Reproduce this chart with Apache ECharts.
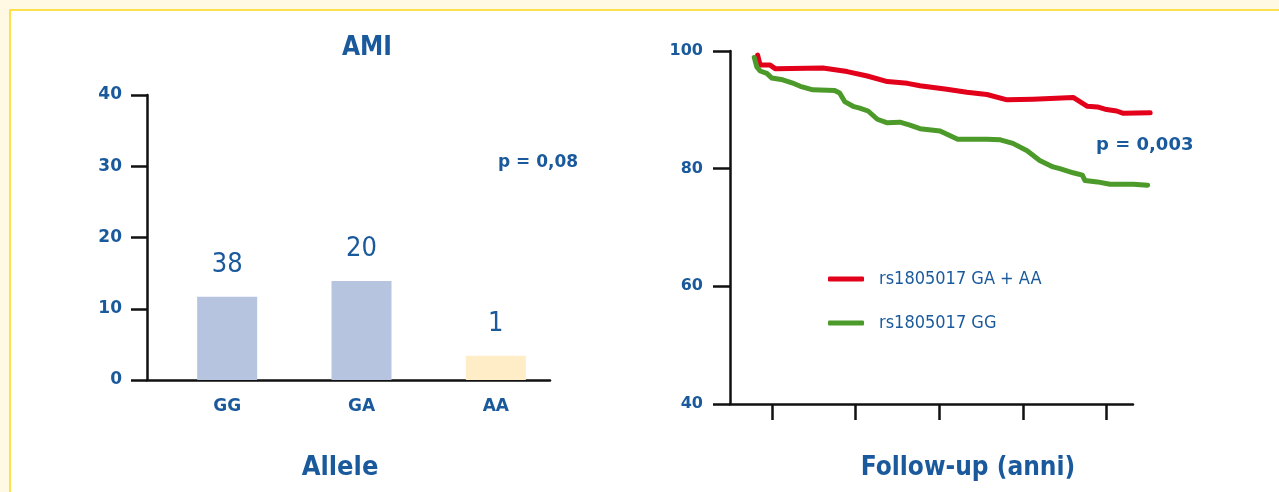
<!DOCTYPE html>
<html><head><meta charset="utf-8">
<script src="https://cdn.jsdelivr.net/npm/echarts@6/dist/echarts.min.js"></script>
<style>
html,body{margin:0;padding:0;background:#fff8e2;width:1279px;height:492px;overflow:hidden}
#panel{position:absolute;left:9px;top:9px;width:1280px;height:490px;background:#fff;border-left:2px solid #fde14a;border-top:2px solid #fde14a}
#c{position:absolute;left:0;top:0;width:1279px;height:492px}
</style></head>
<body><div id="panel"></div><div id="c"></div>
<script>
// ---- data ----
const barCategories = ['GG', 'GA', 'AA'];
const barValues = [11.7, 13.9, 3.4];
const barLabels = ['38', '20', '1'];
const leftTicks = { min: 0, max: 40, interval: 10 };
const rightTicks = { min: 40, max: 100, interval: 20 };
const followTicks = [1, 2, 3, 4, 5];

const redName = 'rs1805017 GA + AA';
const redX = [0.83, 0.86, 0.98, 1.04, 1.61, 1.90, 2.14, 2.38, 2.62, 2.77, 3.09, 3.33, 3.57, 3.81, 4.12, 4.60, 4.68, 4.77, 4.89, 5.00, 5.12, 5.20, 5.52];
const redY = [99.3, 97.6, 97.6, 97.0, 97.1, 96.5, 95.75, 94.8, 94.5, 94.1, 93.5, 93.0, 92.6, 91.7, 91.8, 92.1, 91.4, 90.6, 90.5, 90.05, 89.8, 89.4, 89.5];

const greenName = 'rs1805017 GG';
const greenX = [0.79, 0.82, 0.86, 0.94, 1.00, 1.13, 1.24, 1.34, 1.49, 1.75, 1.81, 1.87, 1.97, 2.05, 2.15, 2.26, 2.38, 2.53, 2.65, 2.77, 3.01, 3.22, 3.57, 3.73, 3.88, 4.05, 4.20, 4.36, 4.44, 4.60, 4.71, 4.74, 4.89, 5.04, 5.32, 5.49];
const greenY = [98.9, 97.3, 96.6, 96.2, 95.4, 95.1, 94.6, 94.0, 93.4, 93.3, 92.85, 91.4, 90.6, 90.3, 89.8, 88.4, 87.8, 87.9, 87.4, 86.8, 86.4, 85.0, 85.0, 84.9, 84.3, 83.05, 81.4, 80.3, 80.0, 79.3, 78.9, 78.0, 77.75, 77.35, 77.35, 77.2];

// ---- styles ----
const BLUE = '#1a5a9c';
const WIDE = "'DejaVu Sans', Verdana, sans-serif";
const NARROW = "'Liberation Sans Narrow', 'DejaVu Sans Condensed', 'Arial Narrow', sans-serif";
const AX = { color: '#111', width: 2.5 };

const zip = (xs, ys) => xs.map((x, i) => [x, ys[i]]);

const chart = echarts.init(document.getElementById('c'), null, { renderer: 'canvas' });
chart.setOption({
  backgroundColor: 'transparent',
  animation: false,
  grid: [
    { left: 147, top: 95, width: 403, height: 285 },
    { left: 160, top: 95, width: 403, height: 285 },
    { left: 730, top: 51, width: 420, height: 353 },
    { left: 730, top: 51, width: 403, height: 353 }
  ],
  xAxis: [
    { gridIndex: 0, type: 'value', min: 0, max: 1, axisLine: { onZero: false, lineStyle: AX },
      axisTick: { show: false }, axisLabel: { show: false }, splitLine: { show: false } },
    { gridIndex: 1, type: 'category', data: barCategories, axisLine: { show: false }, axisTick: { show: false },
      axisLabel: { margin: 18, color: BLUE, fontFamily: WIDE, fontWeight: 'bold', fontSize: 17 } },
    { gridIndex: 2, type: 'value', min: 0.5, max: 5.518, axisLine: { show: false, onZero: false },
      axisTick: { show: true, length: 16, lineStyle: AX, customValues: followTicks },
      axisLabel: { show: false }, splitLine: { show: false } },
    { gridIndex: 3, type: 'value', min: 0, max: 1, axisLine: { onZero: false, lineStyle: AX },
      axisTick: { show: false }, axisLabel: { show: false }, splitLine: { show: false } }
  ],
  yAxis: [
    { gridIndex: 0, type: 'value', min: leftTicks.min, max: leftTicks.max, interval: leftTicks.interval,
      axisLine: { show: true, onZero: false, lineStyle: AX },
      axisTick: { show: true, length: 16, lineStyle: AX },
      axisLabel: { margin: 25, color: BLUE, fontFamily: WIDE, fontWeight: 'bold', fontSize: 17 },
      splitLine: { show: false } },
    { gridIndex: 1, type: 'value', min: leftTicks.min, max: leftTicks.max, show: false },
    { gridIndex: 2, type: 'value', min: rightTicks.min, max: rightTicks.max, interval: rightTicks.interval,
      axisLine: { show: true, onZero: false, lineStyle: AX },
      axisTick: { show: true, length: 17, lineStyle: AX },
      axisLabel: { margin: 27, color: BLUE, fontFamily: WIDE, fontWeight: 'bold', fontSize: 16 },
      splitLine: { show: false } },
    { gridIndex: 3, type: 'value', min: 0, max: 1, show: false }
  ],
  legend: {
    orient: 'vertical', left: 823, top: 265, itemWidth: 36, itemHeight: 5, itemGap: 26,
    icon: 'roundRect',
    textStyle: { color: BLUE, fontFamily: NARROW, fontSize: 18, padding: [0, 0, 0, 10] },
    data: [redName, greenName]
  },
  series: [
    { type: 'bar', xAxisIndex: 1, yAxisIndex: 1, barWidth: 60,
      data: barValues.map((v, i) => ({ value: v, itemStyle: { color: i === 2 ? '#feedc6' : '#b6c4e0' } })),
      label: { show: true, position: 'top', distance: 18, color: BLUE, fontFamily: NARROW, fontSize: 27,
        formatter: p => barLabels[p.dataIndex] } },
    { type: 'line', name: redName, xAxisIndex: 2, yAxisIndex: 2, data: zip(redX, redY), symbol: 'none', clip: false,
      color: '#e2001a', lineStyle: { width: 5, cap: 'round', join: 'round', color: '#e2001a' } },
    { type: 'line', name: greenName, xAxisIndex: 2, yAxisIndex: 2, data: zip(greenX, greenY), symbol: 'none', clip: false,
      color: '#4c9a2a', lineStyle: { width: 5, cap: 'round', join: 'round', color: '#4c9a2a' } }
  ],
  graphic: [
    { type: 'text', x: 367, y: 48, style: { text: 'AMI', fill: BLUE, font: "bold 26px " + NARROW, textAlign: 'center', textVerticalAlign: 'middle' } },
    { type: 'text', x: 340, y: 468, style: { text: 'Allele', fill: BLUE, font: "bold 27px " + NARROW, textAlign: 'center', textVerticalAlign: 'middle' } },
    { type: 'text', x: 968, y: 468, style: { text: 'Follow-up (anni)', fill: BLUE, font: "bold 26px " + NARROW, textAlign: 'center', textVerticalAlign: 'middle' } },
    { type: 'text', x: 498, y: 163, style: { text: 'p = 0,08', fill: BLUE, font: "bold 17px " + WIDE, textAlign: 'left', textVerticalAlign: 'middle' } },
    { type: 'text', x: 1096, y: 145, style: { text: 'p = 0,003', fill: BLUE, font: "bold 18px " + WIDE, textAlign: 'left', textVerticalAlign: 'middle' } }
  ]
});
</script></body></html>
